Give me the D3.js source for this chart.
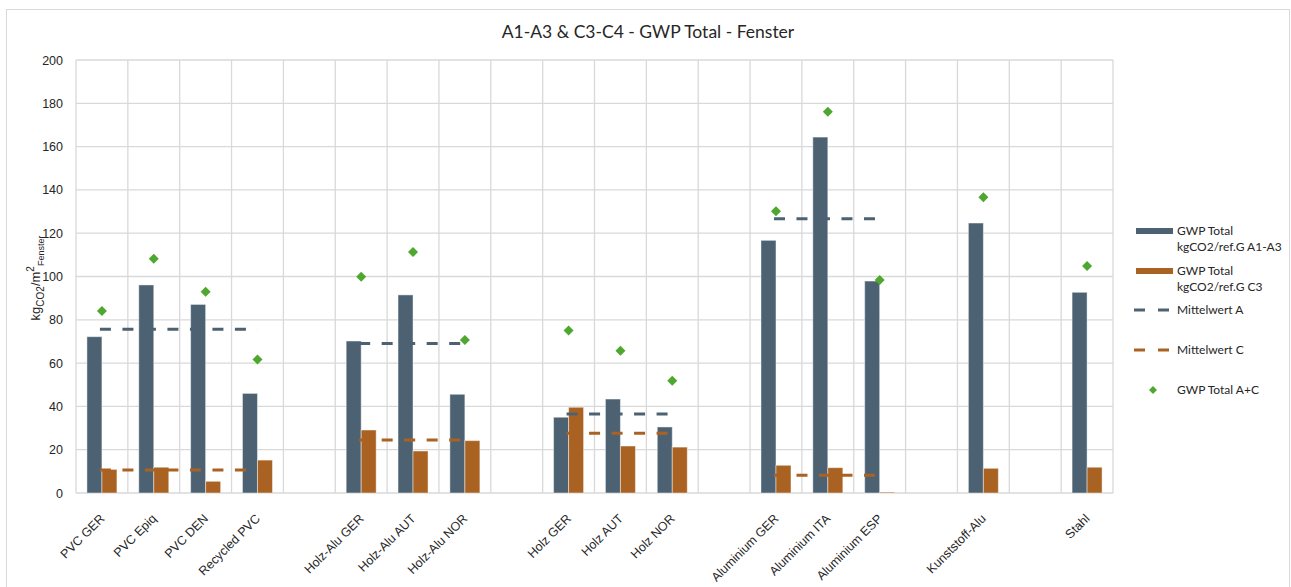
<!DOCTYPE html>
<html>
<head>
<meta charset="utf-8">
<script src="https://cdn.jsdelivr.net/npm/d3@7"></script>
<style>
  body { margin: 0; background: #fff; }
  svg text { fill: #262626; }
</style>
</head>
<body>
<div id="chart"></div>
<script>
// categories, blanks are spacer slots between the window groups
const categories = [
  "PVC GER", "PVC Epiq", "PVC DEN", "Recycled PVC", "",
  "Holz-Alu GER", "Holz-Alu AUT", "Holz-Alu NOR", "",
  "Holz GER", "Holz AUT", "Holz NOR", "",
  "Aluminium GER", "Aluminium ITA", "Aluminium ESP", "",
  "Kunststoff-Alu", "", "Stahl"
];
const gwpA = [72.2, 96.1, 87.1, 46.0, null, 70.2, 91.5, 45.6, null, 35.0, 43.4, 30.5, null, 116.7, 164.4, 97.9, null, 124.7, null, 92.7];
const gwpC = [10.9, 11.9, 5.4, 15.2, null, 29.1, 19.4, 24.2, null, 39.6, 21.7, 21.2, null, 12.8, 11.7, 0.4, null, 11.4, null, 11.9];
const gwpTotal = [84.1, 108.2, 93.0, 61.7, null, 99.9, 111.3, 70.7, null, 75.1, 65.7, 51.9, null, 130.1, 176.1, 98.4, null, 136.6, null, 104.8];
// group means: [first index, last index, value]
const meanA = [[0, 3, 75.6], [5, 7, 69.1], [9, 11, 36.5], [13, 15, 126.7]];
const meanC = [[0, 3, 10.6], [5, 7, 24.5], [9, 11, 27.6], [13, 15, 8.2]];
const yTicks = [0, 20, 40, 60, 80, 100, 120, 140, 160, 180, 200];

const colA = "#4c6273", colC = "#aa6223", colT = "#4ea72e", gridCol = "#d9d9d9";

class ChartBuilder {
  constructor() {
    this._width = 1291;
    this._height = 587;
    this._plot = { left: 76, right: 1113, top: 60, bottom: 493 };
  }

  _buildContainer() {
    this._svg = d3.select("#chart").append("svg")
      .attr("width", this._width)
      .attr("height", this._height)
      .style("font-family", "'Liberation Sans', Arial, sans-serif");

    this._svg.append("rect")
      .attr("x", 6.5).attr("y", 9.5)
      .attr("width", 1283).attr("height", 590)
      .attr("fill", "#fff").attr("stroke", gridCol);

    this._svg.append("text")
      .attr("x", 648).attr("y", 38)
      .attr("text-anchor", "middle")
      .style("font-family", "Lato, 'Open Sans', sans-serif")
      .style("font-size", "17.5px")
      .text("A1-A3 & C3-C4 - GWP Total - Fenster");
  }

  _buildScales() {
    const p = this._plot;
    this._x = d3.scaleBand().domain(d3.range(categories.length)).range([p.left, p.right]);
    this._xs = d3.scaleBand().domain(["A", "C"]).range([0, this._x.bandwidth()]).paddingOuter(0.728);
    this._y = d3.scaleLinear().domain([0, 200]).range([p.bottom, p.top]);
    this._cx = i => this._x(i) + this._x.bandwidth() / 2;
  }

  _buildGrid() {
    const p = this._plot;
    const g = this._svg.append("g").attr("class", "grid");
    g.selectAll("line.h").data(yTicks).enter().append("line")
      .attr("x1", p.left).attr("x2", p.right)
      .attr("y1", d => this._y(d)).attr("y2", d => this._y(d))
      .attr("stroke", gridCol).attr("stroke-width", 1.3);
    g.selectAll("line.v").data(d3.range(categories.length + 1)).enter().append("line")
      .attr("x1", i => p.left + i * this._x.step()).attr("x2", i => p.left + i * this._x.step())
      .attr("y1", p.top).attr("y2", p.bottom)
      .attr("stroke", gridCol).attr("stroke-width", 1.3);

    g.selectAll("text.ytick").data(yTicks).enter().append("text")
      .attr("x", 63).attr("y", d => this._y(d) + 4.5)
      .attr("text-anchor", "end")
      .style("font-size", "12.5px")
      .text(d => d);

    g.selectAll("text.xtick").data(categories).enter().append("text")
      .attr("transform", (d, i) => "translate(" + (this._cx(i) - 3) + ",513) rotate(-45)")
      .attr("dy", "0.72em")
      .attr("text-anchor", "end")
      .style("font-size", "12.5px")
      .text(d => d);

    const yl = this._svg.append("text")
      .attr("transform", "translate(40,278) rotate(-90)")
      .attr("text-anchor", "middle")
      .style("font-size", "13px");
    yl.append("tspan").text("kg");
    yl.append("tspan").attr("dy", 4).style("font-size", "10px").text("CO2");
    yl.append("tspan").attr("dy", -4).text("/m");
    yl.append("tspan").attr("dy", -6).style("font-size", "10px").text("2");
    yl.append("tspan").attr("dy", 10).style("font-size", "9px").text("Fenster");
  }

  _buildBars() {
    const rows = categories.map((c, i) => ({ i, a: gwpA[i], c: gwpC[i] })).filter(d => d.a != null);
    const g = this._svg.append("g").attr("class", "bars");
    [["A", "a", colA], ["C", "c", colC]].forEach(([key, field, col]) => {
      g.selectAll("rect." + key).data(rows).enter().append("rect")
        .attr("x", d => this._x(d.i) + this._xs(key))
        .attr("width", this._xs.bandwidth())
        .attr("y", d => this._y(d[field]))
        .attr("height", d => this._y(0) - this._y(d[field]))
        .attr("fill", col)
        .attr("stroke", "#fff").attr("stroke-opacity", 0.45).attr("stroke-width", 1);
    });
  }

  _buildMeans() {
    const g = this._svg.append("g").attr("class", "means");
    [[meanA, colA], [meanC, colC]].forEach(([data, col]) => {
      g.selectAll(null).data(data).enter().append("line")
        .attr("x1", d => this._cx(d[0]) - 2).attr("x2", d => this._cx(d[1]))
        .attr("y1", d => this._y(d[2])).attr("y2", d => this._y(d[2]))
        .attr("stroke", col).attr("stroke-width", 3)
        .attr("stroke-dasharray", "11,11.5");
    });
  }

  _buildPoints() {
    const diamond = d3.symbol().type(d3.symbolDiamond2).size(64);
    const pts = gwpTotal.map((v, i) => ({ i, v })).filter(d => d.v != null);
    this._svg.append("g").attr("class", "points")
      .selectAll("path").data(pts).enter().append("path")
      .attr("transform", d => "translate(" + this._cx(d.i) + "," + this._y(d.v) + ")")
      .attr("d", diamond)
      .attr("fill", colT);
  }

  _buildLegend() {
    const g = this._svg.append("g").attr("class", "legend")
      .style("font-family", "Lato, 'Open Sans', sans-serif")
      .style("font-size", "12px");
    const tx = 1177;
    g.append("rect").attr("x", 1136).attr("y", 228).attr("width", 37).attr("height", 6).attr("fill", colA);
    g.append("text").attr("x", tx).attr("y", 235).text("GWP Total");
    g.append("text").attr("x", tx).attr("y", 251).text("kgCO2/ref.G A1-A3");
    g.append("rect").attr("x", 1136).attr("y", 268).attr("width", 37).attr("height", 6).attr("fill", colC);
    g.append("text").attr("x", tx).attr("y", 275).text("GWP Total");
    g.append("text").attr("x", tx).attr("y", 291).text("kgCO2/ref.G C3");
    [[310, colA, "Mittelwert A"], [350, colC, "Mittelwert C"]].forEach(([y, col, label]) => {
      g.append("line").attr("x1", 1134).attr("x2", 1169).attr("y1", y).attr("y2", y)
        .attr("stroke", col).attr("stroke-width", 3).attr("stroke-dasharray", "11,13");
      g.append("text").attr("x", tx).attr("y", y + 4).text(label);
    });
    g.append("path").attr("transform", "translate(1153,390)")
      .attr("d", d3.symbol().type(d3.symbolDiamond2).size(40)).attr("fill", colT);
    g.append("text").attr("x", tx).attr("y", 394).text("GWP Total A+C");
  }

  build() {
    this._buildContainer();
    this._buildScales();
    this._buildGrid();
    this._buildBars();
    this._buildMeans();
    this._buildPoints();
    this._buildLegend();
  }
}

new ChartBuilder().build();
</script>
</body>
</html>
